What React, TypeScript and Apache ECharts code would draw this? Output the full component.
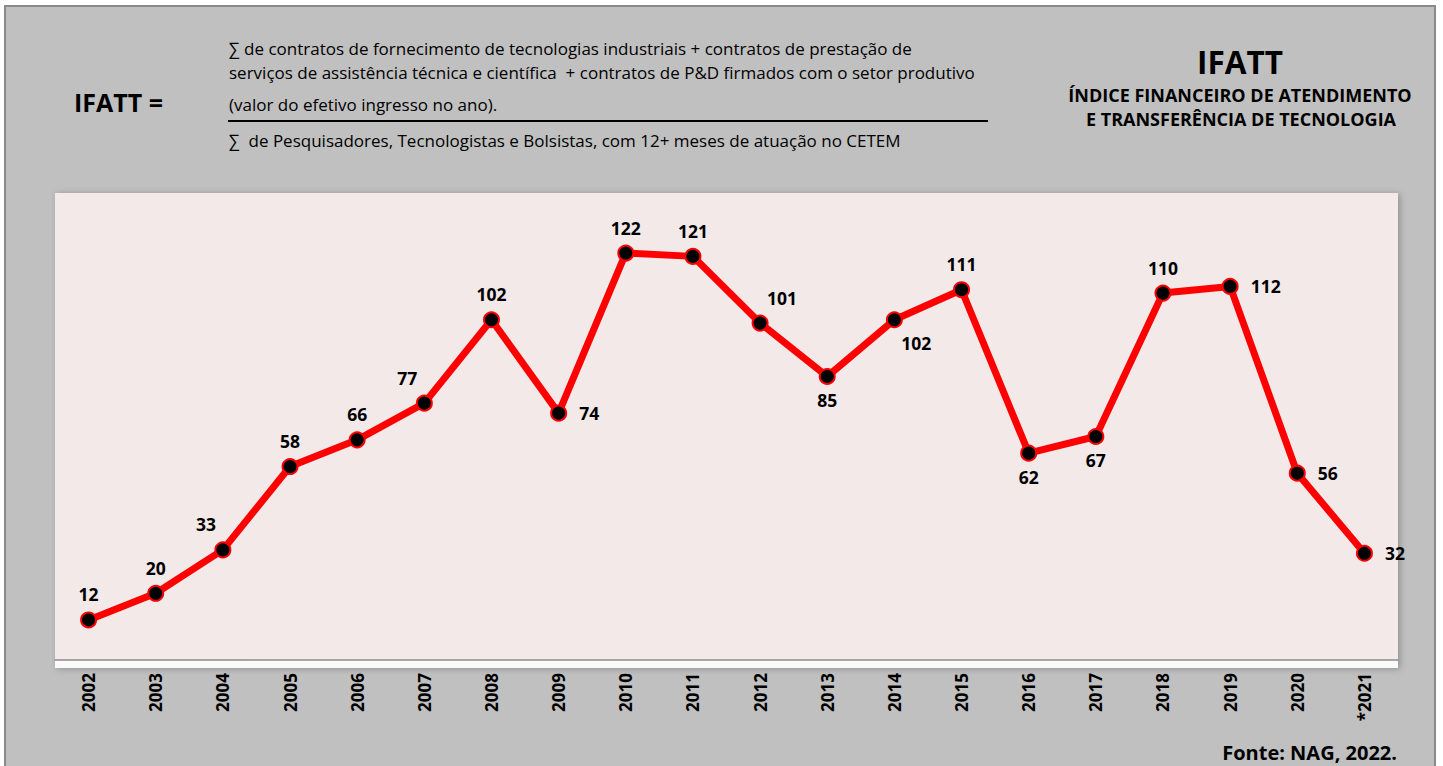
import React, { useEffect, useRef } from "react";
import * as echarts from "echarts";

const years = ["2002", "2003", "2004", "2005", "2006", "2007", "2008", "2009", "2010", "2011", "2012", "2013", "2014", "2015", "2016", "2017", "2018", "2019", "2020", "*2021"];
const values = [12, 20, 33, 58, 66, 77, 102, 74, 122, 121, 101, 85, 102, 111, 62, 67, 110, 112, 56, 32];
// where each value label sits relative to its point
const labelPlacement = ["top", "top", "topLeft", "top", "top", "topLeft", "top", "right", "top", "top", "topRight", "bottom", "bottomRight", "top", "bottom", "bottom", "top", "right", "right", "right"];

const numeratorLines = [
  "∑ de contratos de fornecimento de tecnologias industriais + contratos de prestação de",
  "serviços de assistência técnica e científica  + contratos de P&D firmados com o setor produtivo",
  "(valor do efetivo ingresso no ano).",
];
const denominatorLine = "∑  de Pesquisadores, Tecnologistas e Bolsistas, com 12+ meses de atuação no CETEM";
const titleText = "IFATT";
const subtitleLines = ["ÍNDICE FINANCEIRO DE ATENDIMENTO", "E TRANSFERÊNCIA DE TECNOLOGIA"];
const sourceText = "Fonte: NAG, 2022.";

const FONT = "'Open Sans', 'Noto Sans', sans-serif";

function labelFor(p: string) {
  const base: any = { show: true, fontWeight: "bold", fontSize: 17.5, color: "#000", fontFamily: FONT };
  switch (p) {
    case "topLeft":
      return { ...base, position: "top", distance: 8, offset: [-17, 0] };
    case "topRight":
      return { ...base, position: "top", distance: 8, offset: [22, 0] };
    case "bottom":
      return { ...base, position: "bottom", distance: 6 };
    case "bottomRight":
      return { ...base, position: "bottom", distance: 6, offset: [22, 0] };
    case "right":
      return { ...base, position: "right", distance: 12 };
    default:
      return { ...base, position: "top", distance: 8 };
  }
}

export default function App() {
  const ref = useRef<HTMLDivElement>(null);
  useEffect(() => {
    if (!ref.current) return;
    const chart = echarts.init(ref.current, undefined, { renderer: "svg" });
    const data = values.map((v, i) => ({ value: v, label: labelFor(labelPlacement[i]) }));
    const graphic: any[] = [
      {
        type: "rect",
        z: -20,
        shape: { x: 5, y: 6, width: 1430, height: 780 },
        style: { fill: "#c0c0c0", stroke: "#8a8a8a", lineWidth: 2 },
        silent: true,
      },
      {
        type: "rect",
        z: -15,
        shape: { x: 55, y: 193, width: 1343, height: 475 },
        style: { fill: "#fbfafa", shadowBlur: 6, shadowColor: "rgba(0,0,0,0.25)", shadowOffsetX: 2, shadowOffsetY: 1 },
        silent: true,
      },
      {
        type: "rect",
        z: -14,
        shape: { x: 55, y: 193, width: 1343, height: 467 },
        style: { fill: "#f2e9e8" },
        silent: true,
      },
      {
        type: "text",
        z: 10,
        left: 74,
        top: 89,
        style: { text: "IFATT =", fontSize: 25, fontWeight: "bold", fill: "#000", fontFamily: FONT },
      },
      ...numeratorLines.map((t, i) => ({
        type: "text",
        z: 10,
        left: 229,
        top: [40, 64, 96][i],
        style: { text: t, fontSize: 17, fill: "#000", fontFamily: FONT },
      })),
      {
        type: "line",
        z: 10,
        shape: { x1: 228, y1: 121, x2: 988, y2: 121 },
        style: { stroke: "#000", lineWidth: 2 },
      },
      {
        type: "text",
        z: 10,
        left: 229,
        top: 132,
        style: { text: denominatorLine, fontSize: 17, fill: "#000", fontFamily: FONT },
      },
      {
        type: "text",
        z: 10,
        x: 1240,
        y: 61,
        style: { text: titleText, fontSize: 31.5, fontWeight: "bold", fill: "#000", fontFamily: FONT, align: "center", verticalAlign: "middle" },
      },
      ...subtitleLines.map((t, i) => ({
        type: "text",
        z: 10,
        x: [1240, 1241][i],
        y: [95, 119][i],
        style: { text: t, fontSize: 18, fontWeight: "bold", fill: "#000", fontFamily: FONT, align: "center", verticalAlign: "middle" },
      })),
      {
        type: "text",
        z: 10,
        x: 1397,
        y: 752,
        style: { text: sourceText, fontSize: 20, fontWeight: "bold", fill: "#000", fontFamily: FONT, align: "right", verticalAlign: "middle" },
      },
    ];
    chart.setOption({
      animation: false,
      backgroundColor: "#ffffff",
      graphic,
      grid: { left: 55, right: 45, top: 193, bottom: 106, containLabel: false },
      xAxis: {
        type: "category",
        data: years,
        boundaryGap: true,
        axisLine: { show: true, lineStyle: { color: "#8c8c8c", width: 1.5 } },
        axisTick: { show: false },
        axisLabel: { rotate: 90, margin: 13, fontSize: 17, fontWeight: "bold", color: "#000", fontFamily: FONT },
        splitLine: { show: false },
      },
      yAxis: {
        type: "value",
        min: 0,
        max: 140,
        show: false,
        splitLine: { show: false },
      },
      series: [
        {
          type: "line",
          data,
          lineStyle: { color: "#ff0000", width: 7 },
          symbol: "circle",
          symbolSize: 15,
          itemStyle: { color: "#000000", borderColor: "#ff0000", borderWidth: 2 },
          z: 3,
        },
      ],
    });
    return () => chart.dispose();
  }, []);
  return <div ref={ref} style={{ position: "fixed", left: 0, top: 0, width: 1443, height: 766 }} />;
}
